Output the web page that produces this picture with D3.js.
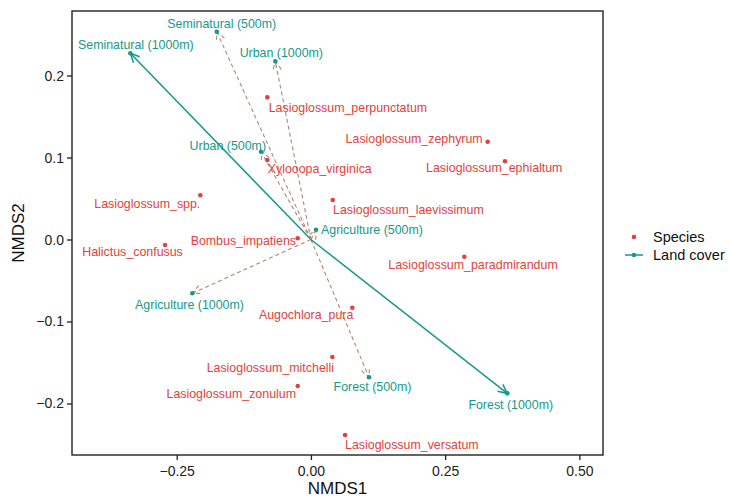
<!DOCTYPE html>
<html>
<head>
<meta charset="utf-8">
<script src="https://cdn.jsdelivr.net/npm/d3@7"></script>
<style>
  body { margin: 0; background: #fff; }
  text { font-family: "Liberation Sans", Arial, sans-serif; }
</style>
</head>
<body>
<div id="nmds"></div>
<script>
// species scores
var speciesNames = ["Lasioglossum_perpunctatum", "Lasioglossum_zephyrum", "Lasioglossum_ephialtum",
  "Xylooopa_virginica", "Lasioglossum_spp.", "Lasioglossum_laevissimum", "Bombus_impatiens",
  "Halictus_confusus", "Lasioglossum_paradmirandum", "Augochlora_pura", "Lasioglossum_mitchelli",
  "Lasioglossum_zonulum", "Lasioglossum_versatum"];
var speciesX = [-0.0812, 0.3292, 0.3614, -0.0812, -0.2060, 0.0406, -0.0246, -0.2717, 0.2857, 0.0771, 0.0399, -0.0246, 0.0635];
var speciesY = [0.1734, 0.1193, 0.0955, 0.0970, 0.0539, 0.0482, 0.0015, -0.0067, -0.0210, -0.0832, -0.1433, -0.1787, -0.2384];

// land cover vectors
var coverNames = ["Seminatural (500m)", "Seminatural (1000m)", "Urban (1000m)", "Urban (500m)",
  "Agriculture (500m)", "Agriculture (1000m)", "Forest (500m)", "Forest (1000m)"];
var coverX = [-0.1754, -0.3363, -0.0663, -0.0929, 0.0095, -0.2209, 0.1082, 0.3657];
var coverY = [0.2534, 0.2271, 0.2173, 0.1071, 0.0120, -0.0656, -0.1680, -0.1876];
var coverSignif = [false, true, false, false, false, false, false, true];

var xTicks = [-0.25, 0, 0.25, 0.5];
var yTicks = [-0.2, -0.1, 0, 0.1, 0.2];

var red = "#e2413d", teal = "#16998a", dashCol = "#b08674";

// label placement (pixels from the point: dx, dy, anchor)
var speciesLab = {
  "Lasioglossum_perpunctatum": [1.4, 10, "start"],
  "Lasioglossum_zephyrum": [-5, -3.4, "end"],
  "Lasioglossum_ephialtum": [-10.7, 6.5, "middle"],
  "Xylooopa_virginica": [0.4, 9, "start"],
  "Lasioglossum_spp.": [0, 8, "end"],
  "Lasioglossum_laevissimum": [0.3, 9.3, "start"],
  "Bombus_impatiens": [-1.7, 2.4, "end"],
  "Halictus_confusus": [-32.5, 6.7, "middle"],
  "Lasioglossum_paradmirandum": [8.7, 8.3, "middle"],
  "Augochlora_pura": [1, 7.3, "end"],
  "Lasioglossum_mitchelli": [1.7, 10.3, "end"],
  "Lasioglossum_zonulum": [-1.7, 7.3, "end"],
  "Lasioglossum_versatum": [0, 9.3, "start"]
};
var coverLab = {
  "Seminatural (500m)": [5, -8.4, "middle"],
  "Seminatural (1000m)": [5.5, -8.3, "middle"],
  "Urban (1000m)": [6, -8.6, "middle"],
  "Urban (500m)": [5, -5.7, "end"],
  "Agriculture (500m)": [5, 0, "start"],
  "Agriculture (1000m)": [-2.8, 11, "middle"],
  "Forest (500m)": [3.5, 9.4, "middle"],
  "Forest (1000m)": [3.5, 11, "middle"]
};

var W = 729, H = 500;
var svg = d3.select("#nmds").append("svg")
  .attr("width", W).attr("height", H);

var x = d3.scaleLinear().domain([-0.445, 0.544]).range([72, 603]);
var y = d3.scaleLinear().domain([-0.2628, 0.2787]).range([455, 11]);

var species = speciesNames.map(function(n, i) { return {name: n, x: speciesX[i], y: speciesY[i]}; });
var cover = coverNames.map(function(n, i) { return {name: n, x: coverX[i], y: coverY[i], sig: coverSignif[i]}; });

// axes
var xAxis = svg.append("g").attr("transform", "translate(0,455)")
  .call(d3.axisBottom(x).tickValues(xTicks).tickSize(5).tickSizeOuter(0)
    .tickFormat(function(d) { return d3.format(".2f")(d).replace("-", "\u2212"); }));
var yAxis = svg.append("g").attr("transform", "translate(72,0)")
  .call(d3.axisLeft(y).tickValues(yTicks).tickSize(5).tickSizeOuter(0)
    .tickFormat(function(d) { return d3.format(".1f")(d).replace("-", "\u2212"); }));
[xAxis, yAxis].forEach(function(a) {
  a.select(".domain").remove();
  a.selectAll(".tick line").attr("stroke", "#222").attr("stroke-width", 1.3);
  a.selectAll(".tick text").attr("fill", "#222").style("font-size", "14px");
});
xAxis.selectAll(".tick text").attr("dy", "0.95em");
yAxis.selectAll(".tick text").attr("x", -8);

// panel border
svg.append("rect")
  .attr("x", x.range()[0]).attr("y", y.range()[1])
  .attr("width", x.range()[1] - x.range()[0])
  .attr("height", y.range()[0] - y.range()[1])
  .attr("fill", "none").attr("stroke", "#222").attr("stroke-width", 1.4);

// axis titles
svg.append("text").attr("x", (x.range()[0] + x.range()[1]) / 2).attr("y", 494)
  .attr("text-anchor", "middle").style("font-size", "17px").attr("fill", "#111").text("NMDS1");
svg.append("text").attr("transform", "translate(24," + ((y.range()[0] + y.range()[1]) / 2) + ") rotate(-90)")
  .attr("text-anchor", "middle").style("font-size", "17px").attr("fill", "#111").text("NMDS2");

// arrows from origin
function headPath(x0, y0, x1, y1, len) {
  var a = Math.atan2(y1 - y0, x1 - x0), s = Math.PI / 7;
  return "M" + (x1 - len * Math.cos(a - s)) + "," + (y1 - len * Math.sin(a - s)) +
    "L" + x1 + "," + y1 +
    "L" + (x1 - len * Math.cos(a + s)) + "," + (y1 - len * Math.sin(a + s));
}
var arrows = svg.append("g").attr("fill", "none");
cover.forEach(function(d) {
  var x0 = x(0), y0 = y(0), x1 = x(d.x), y1 = y(d.y);
  var col = d.sig ? teal : dashCol;
  var g = arrows.append("g").attr("stroke", col).attr("stroke-width", d.sig ? 1.5 : 1.1);
  if (!d.sig) g.attr("stroke-dasharray", "4,3");
  g.append("line").attr("x1", x0).attr("y1", y0).attr("x2", x1).attr("y2", y1);
  g.append("path").attr("d", headPath(x0, y0, x1, y1, 10));
});

// points
svg.append("g").selectAll("circle").data(cover).enter().append("circle")
  .attr("cx", function(d) { return x(d.x); }).attr("cy", function(d) { return y(d.y); })
  .attr("r", 2.3).attr("fill", teal);
svg.append("g").selectAll("circle").data(species).enter().append("circle")
  .attr("cx", function(d) { return x(d.x); }).attr("cy", function(d) { return y(d.y); })
  .attr("r", 2.3).attr("fill", red);

// labels
function addLabels(data, lay, col) {
  svg.append("g").selectAll("text").data(data).enter().append("text")
    .attr("x", function(d) { return x(d.x) + lay[d.name][0]; })
    .attr("y", function(d) { return y(d.y) + lay[d.name][1]; })
    .attr("dy", "0.35em")
    .attr("text-anchor", function(d) { return lay[d.name][2]; })
    .attr("fill", col).style("font-size", "12.4px")
    .text(function(d) { return d.name; });
}
addLabels(cover, coverLab, teal);
addLabels(species, speciesLab, red);

// legend
var leg = svg.append("g");
leg.append("circle").attr("cx", 634).attr("cy", 237).attr("r", 2.3).attr("fill", red);
leg.append("line").attr("x1", 625).attr("x2", 643).attr("y1", 255).attr("y2", 255)
  .attr("stroke", teal).attr("stroke-width", 1.5);
leg.append("circle").attr("cx", 634).attr("cy", 255).attr("r", 2.3).attr("fill", teal);
leg.append("text").attr("x", 653).attr("y", 237).attr("dy", "0.35em")
  .style("font-size", "14.5px").attr("fill", "#111").text("Species");
leg.append("text").attr("x", 653).attr("y", 255).attr("dy", "0.35em")
  .style("font-size", "14.5px").attr("fill", "#111").text("Land cover");
</script>
</body>
</html>
